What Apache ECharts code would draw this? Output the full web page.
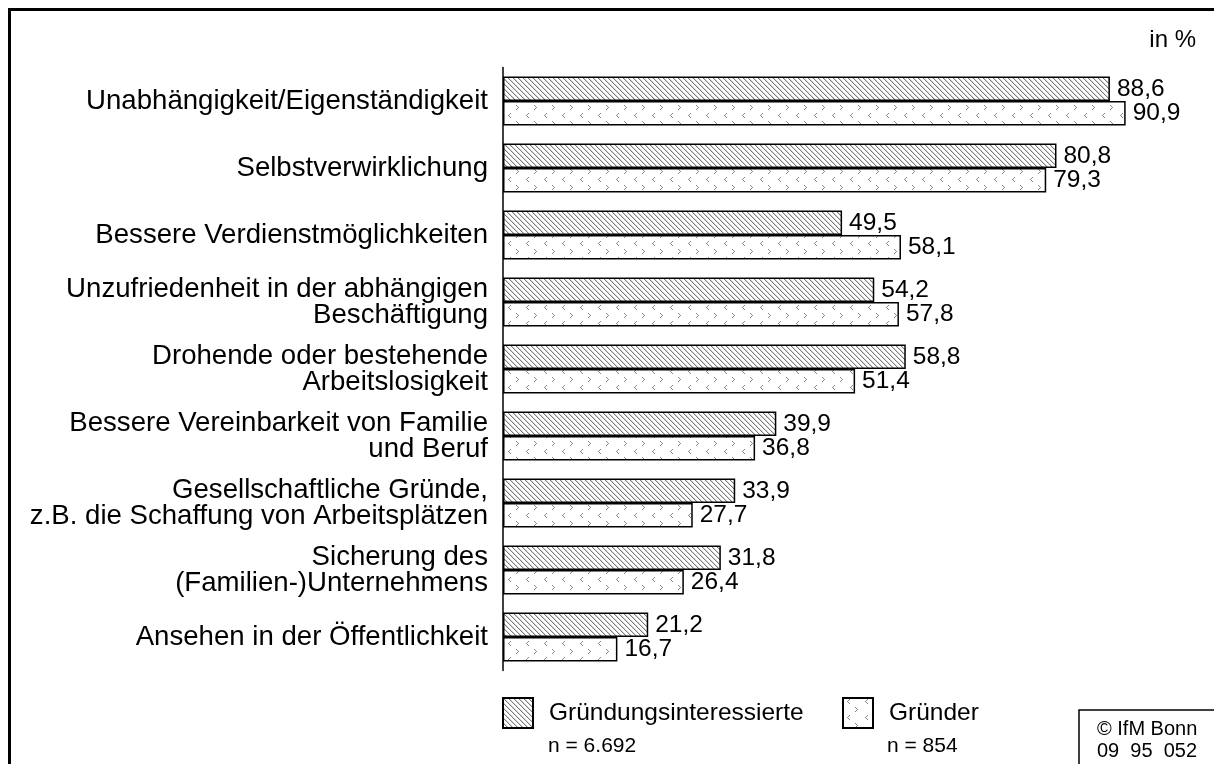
<!DOCTYPE html>
<html>
<head>
<meta charset="utf-8">
<style>
  html, body { margin: 0; padding: 0; background: #fff; }
  #chart { width: 1214px; height: 764px; }
</style>
<script src="https://cdn.jsdelivr.net/npm/echarts@6/dist/echarts.min.js"></script>
</head>
<body>
<div id="chart"></div>
<script>
// motives for founding a business, in %
var categories = [
  'Unabhängigkeit/Eigenständigkeit',
  'Selbstverwirklichung',
  'Bessere Verdienstmöglichkeiten',
  'Unzufriedenheit in der abhängigen\nBeschäftigung',
  'Drohende oder bestehende\nArbeitslosigkeit',
  'Bessere Vereinbarkeit von Familie\nund Beruf',
  'Gesellschaftliche Gründe,\nz.B. die Schaffung von Arbeitsplätzen',
  'Sicherung des\n(Familien-)Unternehmens',
  'Ansehen in der Öffentlichkeit'
];
var interessierte = [88.6, 80.8, 49.5, 54.2, 58.8, 39.9, 33.9, 31.8, 21.2];
var gruender = [90.9, 79.3, 58.1, 57.8, 51.4, 36.8, 27.7, 26.4, 16.7];
var seriesNames = ['Gründungsinteressierte', 'Gründer'];
var sampleSizes = ['n = 6.692', 'n = 854'];

var font = '"Liberation Sans", Arial, sans-serif';

// diagonal hatch tile
function hatchTile() {
  var c = document.createElement('canvas');
  c.width = 5; c.height = 5;
  var ctx = c.getContext('2d');
  ctx.fillStyle = '#fff';
  ctx.fillRect(0, 0, 5, 5);
  for (var y = 0; y < 5; y++) {
    ctx.fillStyle = '#7c7c7c';
    ctx.fillRect(y % 5, y, 1, 1);
    ctx.fillStyle = '#d6d6d6';
    ctx.fillRect((y + 1) % 5, y, 1, 1);
  }
  return c;
}

// small chevron dots tile
function dotTile() {
  var c = document.createElement('canvas');
  c.width = 18; c.height = 16;
  var ctx = c.getContext('2d');
  ctx.fillStyle = '#fff';
  ctx.fillRect(0, 0, 18, 16);
  ctx.fillStyle = '#8a8a8a';
  // "<"
  [[2, 0], [1, 1], [0, 2], [1, 3], [2, 4]].forEach(function (p) {
    ctx.fillRect(4 + p[0], 1 + p[1], 1, 1);
  });
  // ">"
  [[0, 0], [1, 1], [2, 2], [1, 3], [0, 4]].forEach(function (p) {
    ctx.fillRect(12 + p[0], 9 + p[1], 1, 1);
  });
  return c;
}

function fmt(v) {
  return v.toFixed(1).replace('.', ',');
}

var chart = echarts.init(document.getElementById('chart'));

function barSeries(name, data, tile) {
  return {
    name: name,
    type: 'bar',
    data: data,
    barWidth: 24.5,
    barGap: '0%',
    itemStyle: {
      color: { image: tile, repeat: 'repeat' },
      borderColor: '#000',
      borderWidth: 1.5
    },
    label: {
      show: true,
      position: 'right',
      distance: 7,
      fontSize: 24.5,
      fontFamily: font,
      color: '#000',
      formatter: function (p) { return fmt(p.value); }
    }
  };
}

function legendFor(name, left) {
  return {
    data: [name],
    left: left,
    top: 697,
    padding: 0,
    icon: 'rect',
    itemWidth: 30,
    itemHeight: 30,
    selectedMode: false,
    textStyle: {
      fontSize: 24.5,
      fontFamily: font,
      color: '#000',
      padding: [0, 0, 0, 11]
    }
  };
}

chart.setOption({
  animation: false,
  backgroundColor: '#fff',
  textStyle: { fontFamily: font },
  grid: { left: 503, top: 67.5, width: 685, height: 603, containLabel: false },
  xAxis: { type: 'value', min: 0, max: 100, show: false },
  yAxis: {
    type: 'category',
    data: categories,
    inverse: true,
    axisLine: { lineStyle: { color: '#000', width: 1.5 } },
    axisTick: { show: false },
    splitLine: { show: false },
    axisLabel: {
      fontSize: 27.6,
      lineHeight: 26,
      color: '#000',
      fontFamily: font,
      margin: 15
    }
  },
  legend: [legendFor(seriesNames[0], 502), legendFor(seriesNames[1], 842)],
  series: [
    barSeries(seriesNames[0], interessierte, hatchTile()),
    barSeries(seriesNames[1], gruender, dotTile())
  ],
  graphic: [
    // frame (left + top)
    { type: 'line', shape: { x1: 9.5, y1: 8, x2: 9.5, y2: 764 }, style: { stroke: '#000', lineWidth: 3 } },
    { type: 'line', shape: { x1: 8, y1: 9.5, x2: 1214, y2: 9.5 }, style: { stroke: '#000', lineWidth: 3 } },
    { type: 'text', right: 18, top: 28, style: { text: 'in %', font: '24px ' + font, fill: '#000' } },
    { type: 'text', left: 548, top: 736, style: { text: sampleSizes[0], font: '21px ' + font, fill: '#000' } },
    { type: 'text', left: 887, top: 736, style: { text: sampleSizes[1], font: '21px ' + font, fill: '#000' } },
    // copyright box
    { type: 'rect', shape: { x: 1079, y: 710, width: 160, height: 80 }, style: { fill: '#fff', stroke: '#000', lineWidth: 1.5 } },
    { type: 'text', left: 1097, top: 719, style: { text: '© IfM Bonn', font: '20px ' + font, fill: '#000' } },
    { type: 'text', left: 1097, top: 741, style: { text: '09  95  052', font: '20px ' + font, fill: '#000' } }
  ]
});
</script>
</body>
</html>
